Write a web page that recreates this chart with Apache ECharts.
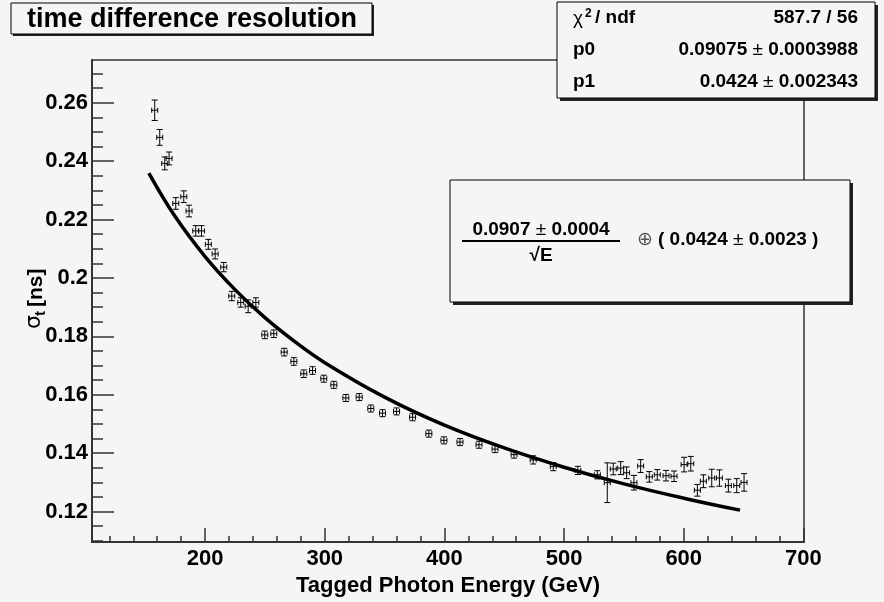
<!DOCTYPE html>
<html>
<head>
<meta charset="utf-8">
<script src="https://cdn.jsdelivr.net/npm/echarts@6/dist/echarts.min.js"></script>
<style>
html, body { margin: 0; padding: 0; background: #f5f5f5; }
#main { width: 884px; height: 602px; }
</style>
</head>
<body>
<div id="main"></div>
<script>
var energy = [157.9, 162.1, 166.3, 169.9, 175.5, 182.2, 186.6, 192.2, 197.0, 202.7,
  208.4, 215.6, 222.3, 229.8, 236.0, 242.4, 249.9, 257.4, 266.1, 274.2,
  282.5, 289.8, 299.2, 307.6, 317.6, 328.8, 338.5, 348.3, 360.0, 373.4,
  387.0, 399.6, 413.0, 428.9, 442.3, 458.2, 474.2, 491.0, 511.5, 527.8,
  536.1, 541.1, 547.3, 552.3, 558.4, 564.0, 571.2, 577.9, 585.2, 591.9,
  600.3, 605.9, 611.4, 616.4, 623.4, 629.8, 637.3, 644.3, 650.4];
var sigma = [0.2574, 0.2481, 0.2392, 0.2409, 0.2255, 0.2278, 0.2229, 0.2161, 0.2161, 0.2115,
  0.2082, 0.2037, 0.1938, 0.1916, 0.1903, 0.1916, 0.1805, 0.1809, 0.1746, 0.1714,
  0.1672, 0.1683, 0.1655, 0.1634, 0.1589, 0.1592, 0.1553, 0.1537, 0.1543, 0.1523,
  0.1467, 0.1444, 0.1438, 0.1429, 0.1414, 0.1395, 0.1377, 0.1354, 0.1341, 0.1326,
  0.1299, 0.1346, 0.1349, 0.1333, 0.1299, 0.1356, 0.1319, 0.1326, 0.1323, 0.1321,
  0.1361, 0.1364, 0.1273, 0.1304, 0.1315, 0.1315, 0.1289, 0.1289, 0.1300];
var sigmaErr = [0.0035, 0.0027, 0.0022, 0.0022, 0.0020, 0.0020, 0.0020, 0.0018, 0.0018, 0.0017,
  0.0017, 0.0016, 0.0016, 0.0016, 0.0022, 0.0016, 0.0013, 0.0013, 0.0013, 0.0013,
  0.0013, 0.0013, 0.0012, 0.0012, 0.0012, 0.0012, 0.0012, 0.0012, 0.0012, 0.0012,
  0.0012, 0.0012, 0.0012, 0.0012, 0.0012, 0.0012, 0.0014, 0.0014, 0.0014, 0.0014,
  0.0068, 0.0020, 0.0022, 0.0020, 0.0025, 0.0022, 0.0018, 0.0018, 0.0018, 0.0018,
  0.0025, 0.0025, 0.0020, 0.0022, 0.0030, 0.0028, 0.0022, 0.0024, 0.0030];
var energyErr = 2.5;

// fitted curve, sampled off the plot
var fitEnergy = [153, 175, 200, 225, 250, 275, 300, 350, 400, 450, 500, 550, 600, 647];
var fitSigma = [0.2359, 0.2210, 0.2073, 0.1960, 0.1864, 0.1782, 0.1710, 0.1592, 0.1496, 0.1418, 0.1352, 0.1295, 0.1246, 0.1205];

// axis ticks
var xMajorTicks = [200, 300, 400, 500, 600, 700];
var xMinorTicks = [120, 140, 160, 180, 200, 220, 240, 260, 280, 300, 320, 340, 360, 380, 400,
  420, 440, 460, 480, 500, 520, 540, 560, 580, 600, 620, 640, 660, 680, 700];
var yMajorTicks = [0.12, 0.14, 0.16, 0.18, 0.2, 0.22, 0.24, 0.26];
var yMinorTicks = [0.11, 0.115, 0.12, 0.125, 0.13, 0.135, 0.14, 0.145, 0.15, 0.155, 0.16, 0.165,
  0.17, 0.175, 0.18, 0.185, 0.19, 0.195, 0.2, 0.205, 0.21, 0.215, 0.22, 0.225, 0.23, 0.235,
  0.24, 0.245, 0.25, 0.255, 0.26, 0.265, 0.27];

var FONT = '"Liberation Sans", Arial, Helvetica, sans-serif';
var BG = '#f5f5f5';

var points = energy.map(function (e, i) { return [e, sigma[i], sigmaErr[i]]; });
var fitLine = fitEnergy.map(function (e, i) { return [e, fitSigma[i]]; });

function renderErrorPoint(params, api) {
  var e = api.value(0), s = api.value(1), ds = api.value(2);
  var c = api.coord([e, s]);
  var top = api.coord([e, s + ds])[1];
  var bot = api.coord([e, s - ds])[1];
  var left = api.coord([e - energyErr, s])[0];
  var right = api.coord([e + energyErr, s])[0];
  var st = { stroke: '#000', lineWidth: 1 };
  return {
    type: 'group',
    children: [
      { type: 'line', shape: { x1: c[0], y1: top, x2: c[0], y2: bot }, style: st },
      { type: 'line', shape: { x1: c[0] - 3, y1: top, x2: c[0] + 3, y2: top }, style: st },
      { type: 'line', shape: { x1: c[0] - 3, y1: bot, x2: c[0] + 3, y2: bot }, style: st },
      { type: 'line', shape: { x1: left, y1: c[1], x2: right, y2: c[1] }, style: st },
      { type: 'line', shape: { x1: left, y1: c[1] - 2.5, x2: left, y2: c[1] + 2.5 }, style: st },
      { type: 'line', shape: { x1: right, y1: c[1] - 2.5, x2: right, y2: c[1] + 2.5 }, style: st }
    ]
  };
}

function txt(x, y, text, font, align, extra) {
  var o = {
    type: 'text', x: x, y: y, z: 102,
    style: { text: text, font: font, fill: '#000', align: align || 'left', verticalAlign: 'middle' }
  };
  if (extra) { for (var k in extra) o.style[k] = extra[k]; }
  return o;
}

function box(x, y, w, h, off) {
  return [
    { type: 'rect', z: 100, shape: { x: x + off, y: y + off, width: w, height: h }, style: { fill: '#222' } },
    { type: 'rect', z: 101, shape: { x: x, y: y, width: w, height: h }, style: { fill: BG, stroke: '#000', lineWidth: 1 } }
  ];
}

var chart = echarts.init(document.getElementById('main'));

var tickStyle = { color: '#333', width: 1.5 };

var option = {
  backgroundColor: BG,
  animation: false,
  grid: {
    left: 92, right: 80, top: 60, bottom: 60,
    show: true, borderColor: '#333', borderWidth: 1.5, backgroundColor: 'transparent'
  },
  xAxis: [{
    type: 'value', min: 105.5, max: 700.5, position: 'bottom',
    axisLine: { show: true, onZero: false, lineStyle: { color: '#333', width: 2 } },
    axisTick: { show: true, inside: true, length: 14, customValues: xMajorTicks, lineStyle: tickStyle },
    axisLabel: { customValues: xMajorTicks, margin: 6, fontSize: 22, fontWeight: 'bold', color: '#000', fontFamily: FONT },
    splitLine: { show: false },
    name: 'Tagged Photon Energy (GeV)', nameLocation: 'middle', nameGap: 25,
    nameTextStyle: { fontSize: 22, fontWeight: 'bold', color: '#000', fontFamily: FONT }
  }, {
    type: 'value', min: 105.5, max: 700.5, position: 'bottom',
    axisLine: { show: false },
    axisTick: { show: true, inside: true, length: 6, customValues: xMinorTicks, lineStyle: tickStyle },
    axisLabel: { show: false },
    splitLine: { show: false }
  }],
  yAxis: [{
    type: 'value', min: 0.1096, max: 0.2746, position: 'left',
    axisLine: { show: true, onZero: false, lineStyle: { color: '#333', width: 2 } },
    axisTick: { show: true, inside: true, length: 22, customValues: yMajorTicks, lineStyle: tickStyle },
    axisLabel: {
      customValues: yMajorTicks, margin: 4, fontSize: 22, fontWeight: 'bold', color: '#000', fontFamily: FONT,
      formatter: function (v) { return String(+v.toFixed(2)); }
    },
    splitLine: { show: false }
  }, {
    type: 'value', min: 0.1096, max: 0.2746, position: 'left',
    axisLine: { show: false },
    axisTick: { show: true, inside: true, length: 11, customValues: yMinorTicks, lineStyle: tickStyle },
    axisLabel: { show: false },
    splitLine: { show: false }
  }],
  series: [{
    type: 'custom',
    xAxisIndex: 0, yAxisIndex: 0,
    renderItem: renderErrorPoint,
    encode: { x: 0, y: 1 },
    data: points,
    z: 3
  }, {
    type: 'line',
    xAxisIndex: 0, yAxisIndex: 0,
    data: fitLine,
    smooth: 0.4,
    showSymbol: false,
    lineStyle: { color: '#000', width: 3.5 },
    z: 5
  }],
  graphic: [].concat(
    // title
    box(11, 3, 361, 31, 2),
    [txt(27, 20, 'time difference resolution', 'bold 27px ' + FONT)],
    // stats box
    box(557, 2, 318, 96, 3),
    [
      txt(573, 19, 'χ', '19px ' + FONT),
      txt(585, 14, '2', 'bold 12px ' + FONT),
      txt(595, 18, '/ ndf', 'bold 19px ' + FONT),
      txt(858, 18, '587.7 / 56', 'bold 19px ' + FONT, 'right'),
      txt(573, 50, 'p0', 'bold 19px ' + FONT),
      txt(858, 50, '{b|0.09075}{n| ± }{b|0.0003988}', '19px ' + FONT, 'right', {
        rich: { b: { fontWeight: 'bold', fontSize: 19, fontFamily: FONT }, n: { fontSize: 19, fontFamily: FONT } }
      }),
      txt(573, 82, 'p1', 'bold 19px ' + FONT),
      txt(858, 82, '{b|0.0424}{n| ± }{b|0.002343}', '19px ' + FONT, 'right', {
        rich: { b: { fontWeight: 'bold', fontSize: 19, fontFamily: FONT }, n: { fontSize: 19, fontFamily: FONT } }
      })
    ],
    // formula box
    box(450, 180, 400, 122, 3),
    [
      txt(541, 230, '{b|0.0907}{n| ± }{b|0.0004}', '19px ' + FONT, 'center', {
        rich: { b: { fontWeight: 'bold', fontSize: 19, fontFamily: FONT }, n: { fontSize: 19, fontFamily: FONT } }
      }),
      { type: 'line', z: 102, shape: { x1: 462, y1: 241, x2: 620, y2: 241 }, style: { stroke: '#000', lineWidth: 2 } },
      txt(541, 256, '√E', 'bold 19px ' + FONT, 'center'),
      txt(637, 240, '⊕', '19px "DejaVu Sans", ' + FONT, 'left', { fill: '#555' }),
      txt(658, 240, '{b|( 0.0424}{n| ± }{b|0.0023 )}', '19px ' + FONT, 'left', {
        rich: { b: { fontWeight: 'bold', fontSize: 19, fontFamily: FONT }, n: { fontSize: 19, fontFamily: FONT } }
      })
    ],
    // y axis title, rotated
    [{
      type: 'group', x: 36, y: 299, rotation: Math.PI / 2, z: 102,
      children: [
        { type: 'text', x: -30, y: -2, style: { text: 'σ', font: '22px "DejaVu Sans", ' + FONT, fill: '#000', align: 'left', verticalAlign: 'middle' } },
        { type: 'text', x: -17, y: 5, style: { text: 't', font: 'bold 15px ' + FONT, fill: '#000', align: 'left', verticalAlign: 'middle' } },
        { type: 'text', x: -8, y: 0, style: { text: '[ns]', font: 'bold 21px ' + FONT, fill: '#000', align: 'left', verticalAlign: 'middle' } }
      ]
    }]
  )
};

chart.setOption(option);
</script>
</body>
</html>
